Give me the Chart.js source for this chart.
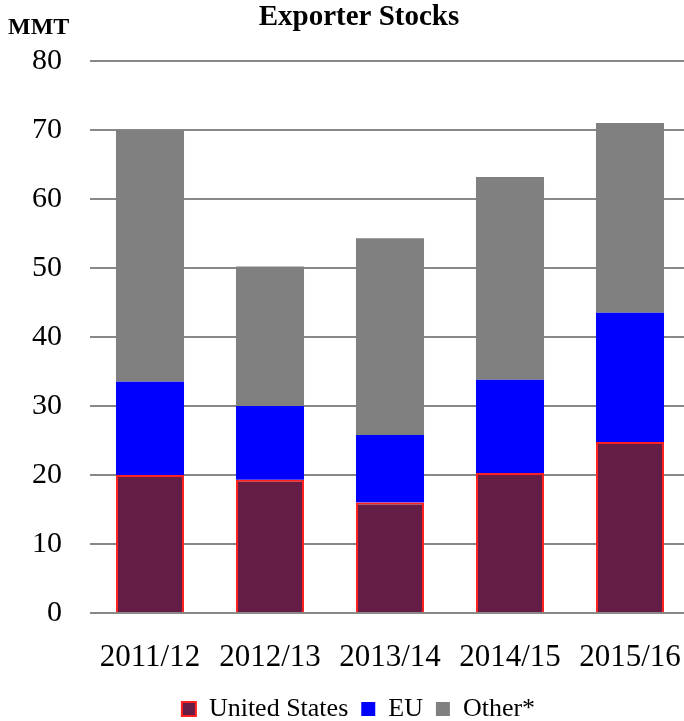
<!DOCTYPE html>
<html><head><meta charset="utf-8">
<script src="https://cdn.jsdelivr.net/npm/chart.js"></script>
<style>html,body{margin:0;padding:0;background:#fff;width:684px;height:721px;overflow:hidden;}#wrap{width:690px;height:732px;}</style>
</head><body><div id="wrap"><canvas id="c"></canvas></div>
<script>
const categories = ["2011/12","2012/13","2013/14","2014/15","2015/16"];
const usValues = [20.0, 19.3, 16.0, 20.3, 24.8];
const euValues = [13.5, 10.7, 9.8, 13.5, 18.7];
const otherValues = [36.5, 20.2, 28.5, 29.4, 27.5];
const titleText = "Exporter Stocks";
const unitText = "MMT";
const FONT = "'Liberation Serif','Times New Roman',serif";

const textPlugin = {
  id: 'texts',
  afterDraw(chart) {
    const ctx = chart.ctx;
    ctx.save();
    ctx.fillStyle = '#000';
    ctx.textBaseline = 'middle';
    ctx.font = "bold 29px " + FONT;
    ctx.textAlign = 'center';
    ctx.fillText(titleText, 359, 18);
    ctx.font = "bold 24px " + FONT;
    ctx.textAlign = 'left';
    ctx.fillText(unitText, 8, 28);
    ctx.restore();
  }
};

new Chart(document.getElementById('c'), {
  type: 'bar',
  data: {
    labels: categories,
    datasets: [
      {label: 'United States', data: usValues, backgroundColor: '#641e46', borderColor: '#ff2020', borderWidth: 2},
      {label: 'EU', data: euValues, backgroundColor: '#0000ff', borderWidth: 0},
      {label: 'Other*', data: otherValues, backgroundColor: '#808080', borderWidth: 0}
    ]
  },
  options: {
    responsive: true, maintainAspectRatio: false, animation: false,
    devicePixelRatio: 1,
    layout: {padding: {top: 61, right: 0, left: 27, bottom: 0}},
    datasets: {bar: {categoryPercentage: 1.0, barPercentage: 0.567}},
    plugins: {
      title: {display: false},
      tooltip: {enabled: false},
      legend: {
        position: 'bottom',
        labels: {font: {family: FONT, size: 26}, color: '#000', boxWidth: 14, boxHeight: 14, padding: 13}
      }
    },
    scales: {
      x: {
        stacked: true,
        afterFit(s) { s.height = 70; s.paddingLeft = 0; s.paddingRight = 0; },
        grid: {display: false, drawTicks: false},
        border: {display: false},
        ticks: {font: {family: FONT, size: 31}, color: '#000', padding: 26, maxRotation: 0}
      },
      y: {
        stacked: true, min: 0, max: 80,
        afterFit(s) { s.width = 63; },
        grid: {color: '#888', lineWidth: 2, drawTicks: false},
        border: {display: false},
        ticks: {stepSize: 10, font: {family: FONT, size: 30}, color: '#000', padding: 28}
      }
    }
  },
  plugins: [textPlugin]
});
</script></body></html>
